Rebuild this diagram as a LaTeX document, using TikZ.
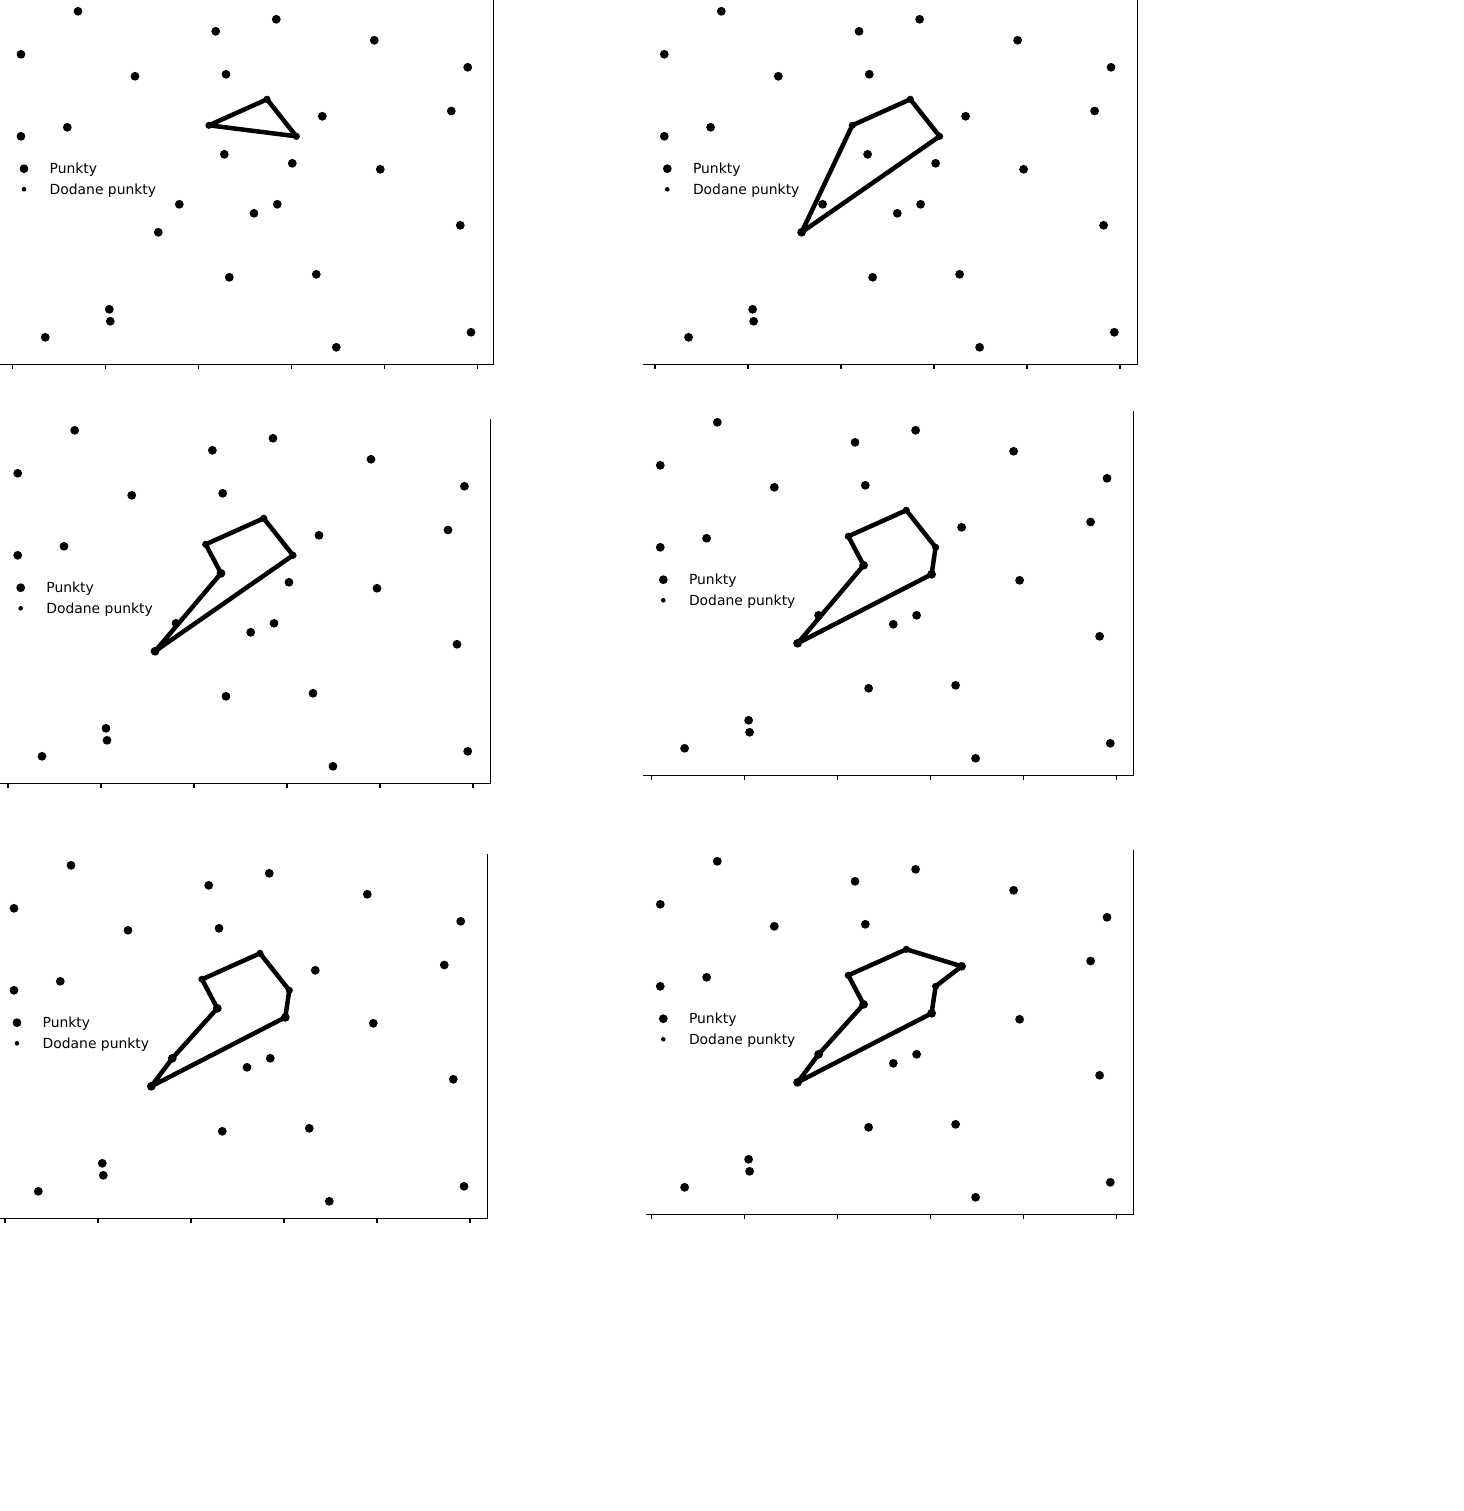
\documentclass[tikz,border=0pt]{standalone}
\usepackage{fontspec}
\setmainfont{DejaVu Sans}
\tikzset{
  spine/.style={line width=1.1pt, line cap=butt},
  poly/.style={line width=4.5pt, line join=round, line cap=round},
  legtext/.style={inner sep=0pt, anchor=base west, font=\fontsize{13.89pt}{16pt}\selectfont},
}
\newcommand\drawpanel[7]{% #1 prefix, #2 dx, #3 dy, #4 left (rel), #5 tick0 (rel), #6 right (rel), #7 polygon
\begin{scope}[shift={(#2,#3)}]
  % axes spines and ticks
  \draw[spine] (#6,0) -- (#6,364.3) -- (#4,364.3);
  \foreach \k in {0,...,5} \draw[spine] ({#5+93*\k},364.3) -- ++(0,4.9);
  % data points
  \foreach \n/\x/\y in {1/78/11.3, 2/21/54.3, 3/215.7/31.3, 4/276.3/19.3, 5/374.3/40.3,
      6/467.7/67.3, 7/135/76.3, 8/226/74.3, 9/451.3/111, H/322.3/116.3, 11/21/136.3,
      12/67.3/127.3, D/224.3/154.3, F/292.3/163.3, 15/380.3/169.3, G/179.3/204.3,
      17/254/213.3, 18/277.3/204.3, E/158.3/232.3, 20/460.3/225.3, 21/229.3/277.3,
      22/316.3/274.3, 23/109.3/309.3, 24/110.3/321.3, 25/45.3/337.3, 26/336.3/347.3,
      27/471/332.3}
  {\coordinate (#1\n) at (\x,\y); \fill (#1\n) circle[radius=4.4];}
  % added points
  \foreach \n/\x/\y in {A/209/125.3, B/267/99.3, C/296.3/136.3}
  {\coordinate (#1\n) at (\x,\y); \fill (#1\n) circle[radius=3.6];}
  % polygon
  \draw[poly] #7;
  % legend
  \coordinate (#1lm1) at (24,168.7);
  \coordinate (#1lm2) at (24,189.3);
  \fill (#1lm1) circle[radius=4.4];
  \fill (#1lm2) circle[radius=2.3];
  \node[legtext] (#1lt1) at (49.5,173.8) {Punkty};
  \node[legtext] (#1lt2) at (49.5,194.4) {Dodane punkty};
\end{scope}}
\begin{document}
\begin{tikzpicture}[x=1pt,y=-1pt]
\useasboundingbox (0,0) rectangle (1463,1511);
\fill[white] (0,0) rectangle (1463,1511);
\drawpanel{a}{0}{0}{0}{12.7}{493.7}{(aA) -- (aB) -- (aC) -- cycle}
\drawpanel{b}{643.3}{0}{-0.3}{11.7}{494.4}{(bA) -- (bB) -- (bC) -- (bE) -- cycle}
\drawpanel{c}{-3.3}{419}{3.3}{11.3}{493.6}{(cA) -- (cB) -- (cC) -- (cE) -- (cD) -- cycle}
\drawpanel{d}{639.3}{411}{3.7}{12.4}{494.4}{(dA) -- (dB) -- (dC) -- (dF) -- (dE) -- (dD) -- cycle}
\drawpanel{e}{-7}{854}{7}{12}{494.7}{(eA) -- (eB) -- (eC) -- (eF) -- (eE) -- (eG) -- (eD) -- cycle}
\drawpanel{f}{639.3}{850}{6.7}{12.4}{494.4}{(fA) -- (fB) -- (fH) -- (fC) -- (fF) -- (fE) -- (fG) -- (fD) -- cycle}
\end{tikzpicture}
\end{document}
